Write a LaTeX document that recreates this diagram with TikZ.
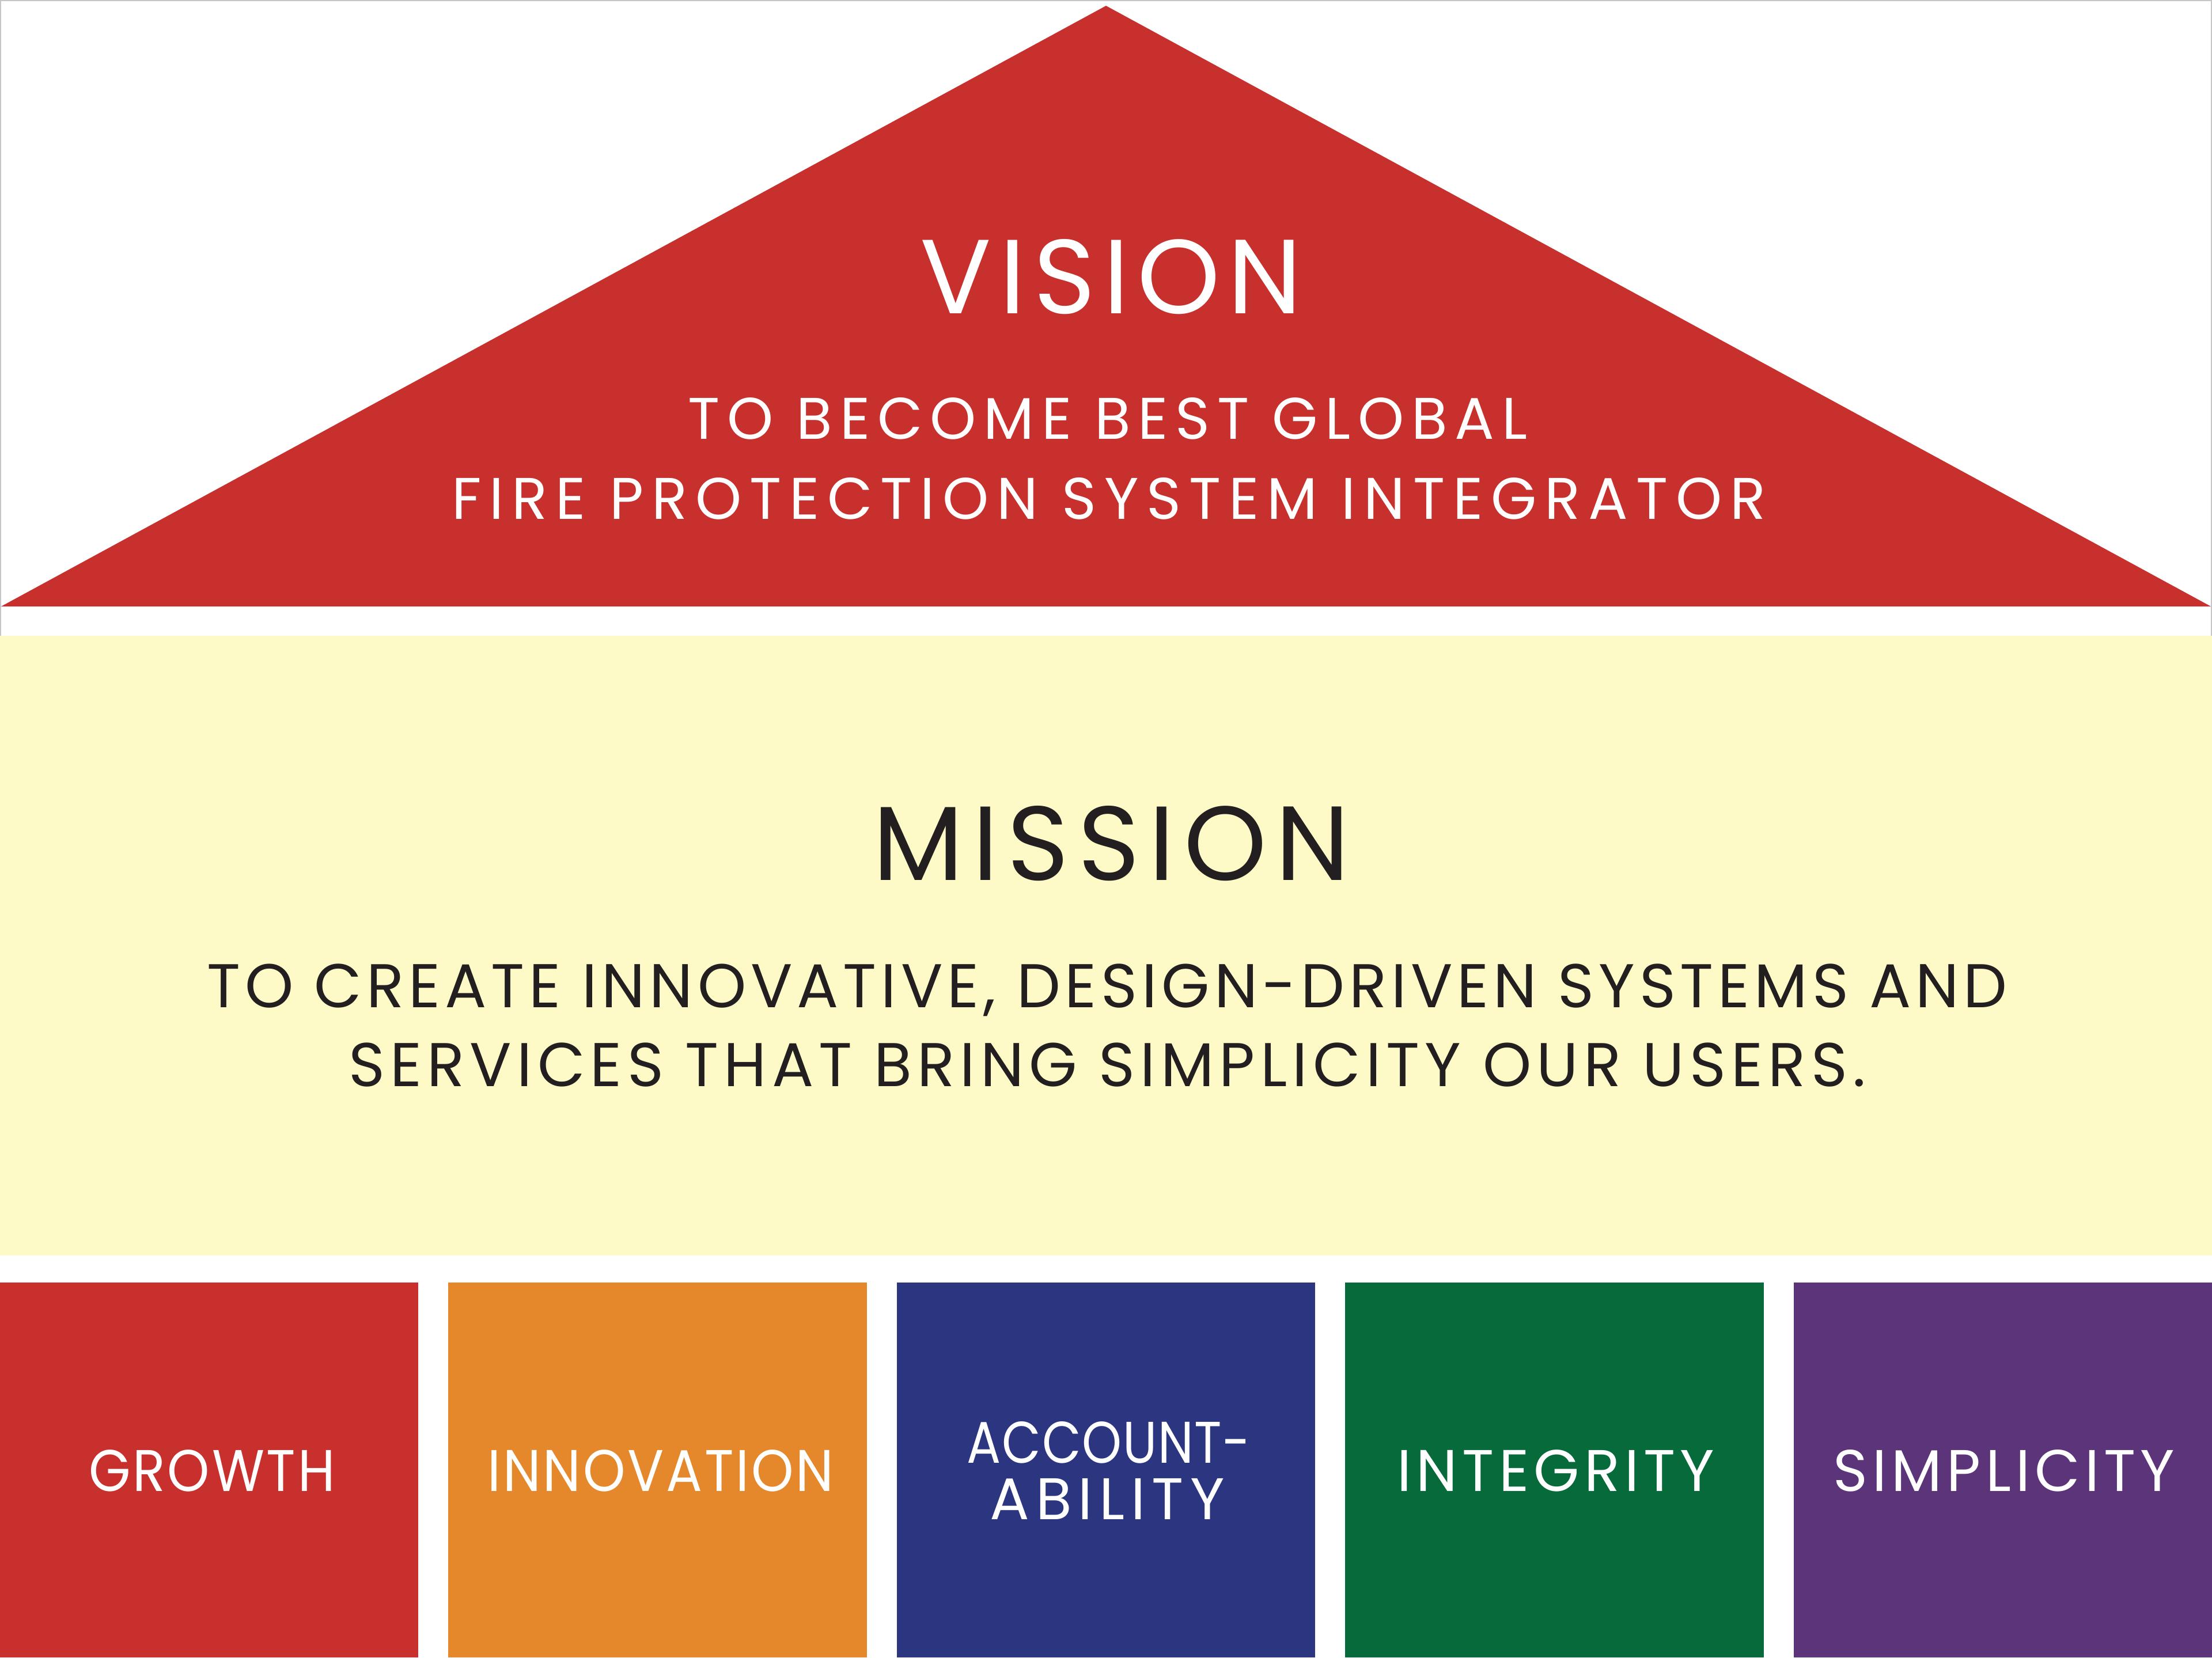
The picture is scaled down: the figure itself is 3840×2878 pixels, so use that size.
\documentclass[tikz,border=0pt]{standalone}
\usepackage{fontspec}
\usepackage{graphicx}
\setmainfont{Poppins}
\newfontfamily\visionfont[LetterSpace=7.6]{Poppins}
\newfontfamily\missionfont[LetterSpace=8.5]{Poppins}
\newfontfamily\rooffont[LetterSpace=12.5]{Poppins}
\newfontfamily\roofwidefont[LetterSpace=13.6]{Poppins}
\newfontfamily\linefont[LetterSpace=8]{Poppins}
\newfontfamily\mlinefonta[LetterSpace=7.35]{Poppins}
\newfontfamily\mlinefontb[LetterSpace=8.5]{Poppins}
\newfontfamily\tightfont[LetterSpace=4]{Poppins}
\newfontfamily\tighterfont[LetterSpace=2]{Poppins}
\newfontfamily\widefont[LetterSpace=11]{Poppins}
\newcommand{\hsquash}[2]{\scalebox{#1}[1]{#2}}
\definecolor{roofred}{HTML}{C8302E}
\definecolor{missionyellow}{HTML}{FEFAC8}
\definecolor{darktext}{HTML}{231F20}
\definecolor{valred}{HTML}{C8302E}
\definecolor{valorange}{HTML}{E5872B}
\definecolor{valblue}{HTML}{2C3680}
\definecolor{valgreen}{HTML}{066A3B}
\definecolor{valpurple}{HTML}{5C347A}
\begin{document}
\begin{tikzpicture}[x=0.01cm,y=-0.01cm,
  bigsize/.style={anchor=base,inner sep=0pt},
  roofline/.style={anchor=base,inner sep=0pt,text=white},
  missionline/.style={anchor=base,inner sep=0pt,text=darktext},
  vallabel/.style={anchor=base,inner sep=0pt,text=white,font=\linefont\fontsize{29}{35}\selectfont}]
\useasboundingbox (0,0) rectangle (3840,2878);
\fill[white] (0,0) rectangle (3840,2878);
% frame lines
\draw[gray!45,line width=0.6pt] (1,1104) -- (1,1) -- (3839,1) -- (3839,1104);
% roof
\fill[roofred] (2,1053) -- (1920,10) -- (3838,1053) -- cycle;
\node[bigsize,text=white,font=\visionfont\fontsize{52}{60}\selectfont] (vision) at (1929,544) {VISION};
\node[roofline,font=\rooffont\fontsize{29}{35}\selectfont] (vline1) at (1923,762) {TO BECOME BEST GLOBAL};
\node[roofline,font=\roofwidefont\fontsize{29}{35}\selectfont] (vline2) at (1925,901) {FIRE PROTECTION SYSTEM INTEGRATOR};
% mission band
\fill[missionyellow] (0,1104) rectangle (3840,2180);
\node[bigsize,text=darktext,font=\missionfont\fontsize{52}{60}\selectfont] (mission) at (1929,1528) {MISSION};
\node[missionline,font=\mlinefonta\fontsize{30.5}{36}\selectfont] (mline1) at (1922,1749) {TO CREATE INNOVATIVE, DESIGN-DRIVEN SYSTEMS AND};
\node[missionline,font=\mlinefontb\fontsize{30.5}{36}\selectfont] (mline2) at (1922,1886) {SERVICES THAT BRING SIMPLICITY OUR USERS.};
% value pillars
\fill[valred]    (0,2227) rectangle (726.4,2878);
\fill[valorange] (778.4,2227) rectangle (1504.8,2878);
\fill[valblue]   (1556.8,2227) rectangle (2283.2,2878);
\fill[valgreen]  (2335.2,2227) rectangle (3061.6,2878);
\fill[valpurple] (3113.6,2227) rectangle (3840,2878);
\node[vallabel,font=\tightfont\fontsize{29}{35}\selectfont] (growth) at (368,2589) {\hsquash{0.915}{GROWTH}};
\node[vallabel,font=\tightfont\fontsize{29}{35}\selectfont] (innovation) at (1147,2589) {\hsquash{0.917}{INNOVATION}};
\node[vallabel,font=\tighterfont\fontsize{29}{35}\selectfont] (account) at (1925,2540) {\hsquash{0.86}{ACCOUNT-}};
\node[vallabel,font=\widefont\fontsize{29}{35}\selectfont] (ability) at (1922,2638) {ABILITY};
\node[vallabel] (integrity) at (2701,2589) {INTEGRITY};
\node[vallabel] (simplicity) at (3479,2589) {SIMPLICITY};
\end{tikzpicture}
\end{document}
